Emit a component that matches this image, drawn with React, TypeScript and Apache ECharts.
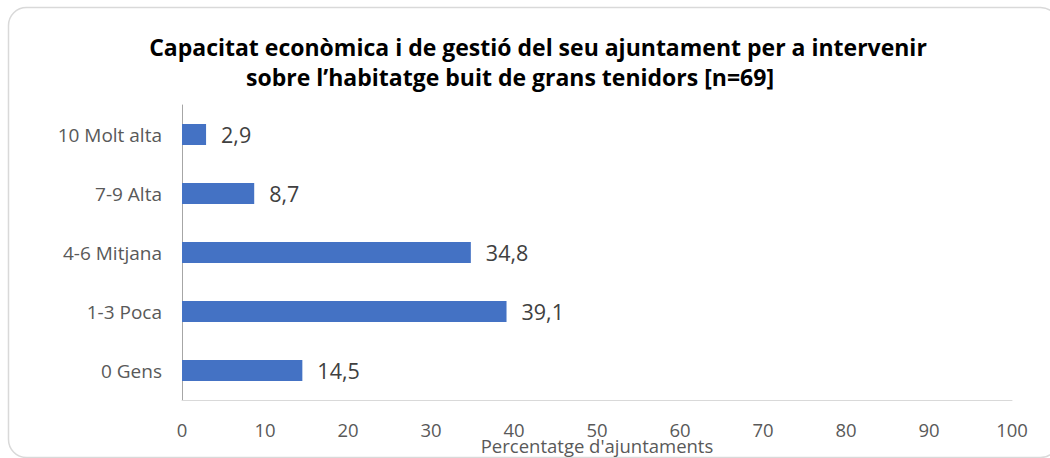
import React, { useEffect, useRef } from "react";
import * as echarts from "echarts";

const categories = ["0 Gens", "1-3 Poca", "4-6 Mitjana", "7-9 Alta", "10 Molt alta"];
const values = [14.5, 39.1, 34.8, 8.7, 2.9];
const titleLines = [
  "Capacitat econòmica i de gestió del seu ajuntament per a intervenir",
  "sobre l’habitatge buit de grans tenidors [n=69]",
];
const xAxisName = "Percentatge d'ajuntaments";

export default function App() {
  const ref = useRef<HTMLDivElement>(null);
  useEffect(() => {
    if (!ref.current) return;
    const chart = echarts.init(ref.current, null, { renderer: "svg" });
    const font = "'Open Sans', sans-serif";
    const titleFont = "bold 23px 'Open Sans', sans-serif";
    chart.setOption({
      animation: false,
      backgroundColor: "#ffffff",
      graphic: [
        {
          type: "rect",
          shape: { x: 8.5, y: 7.5, width: 1050, height: 450, r: 18 },
          style: { fill: "none", stroke: "#d9d9d9", lineWidth: 1.5 },
          silent: true,
        },
        {
          type: "text",
          x: 538,
          y: 47,
          style: {
            text: titleLines[0],
            font: titleFont,
            fill: "#000000",
            textAlign: "center",
            textVerticalAlign: "middle",
          },
        },
        {
          type: "text",
          x: 510,
          y: 77,
          style: {
            text: titleLines[1],
            font: titleFont,
            fill: "#000000",
            textAlign: "center",
            textVerticalAlign: "middle",
          },
        },
      ],
      grid: {
        left: 182,
        right: 38,
        top: 105,
        bottom: 58,
        containLabel: false,
        outerBoundsMode: "none",
      },
      xAxis: {
        type: "value",
        min: 0,
        max: 100,
        interval: 10,
        name: xAxisName,
        nameLocation: "middle",
        nameGap: 37,
        nameMoveOverlap: false,
        nameTextStyle: { fontFamily: font, fontSize: 18.5, lineHeight: 16, color: "#595959" },
        axisLine: { show: true, lineStyle: { color: "#d9d9d9", width: 1 } },
        axisTick: { show: false },
        splitLine: { show: false },
        axisLabel: { fontFamily: font, fontSize: 18.5, lineHeight: 16, color: "#595959", margin: 21 },
      },
      yAxis: {
        type: "category",
        data: categories,
        axisLine: { show: true, lineStyle: { color: "#a6a6a6", width: 1 } },
        axisTick: { show: false },
        axisLabel: { fontFamily: font, fontSize: 19, color: "#595959", margin: 20 },
      },
      series: [
        {
          type: "bar",
          data: values,
          barWidth: 21,
          itemStyle: { color: "#4472c4" },
          label: {
            show: true,
            position: "right",
            distance: 15,
            fontFamily: font,
            fontSize: 21.5,
            color: "#404040",
            formatter: (p: any) => String(p.value).replace(".", ","),
          },
        },
      ],
    });
    return () => chart.dispose();
  }, []);
  return (
    <div
      ref={ref}
      style={{ position: "fixed", left: 0, top: 0, width: 1050, height: 458 }}
    />
  );
}
